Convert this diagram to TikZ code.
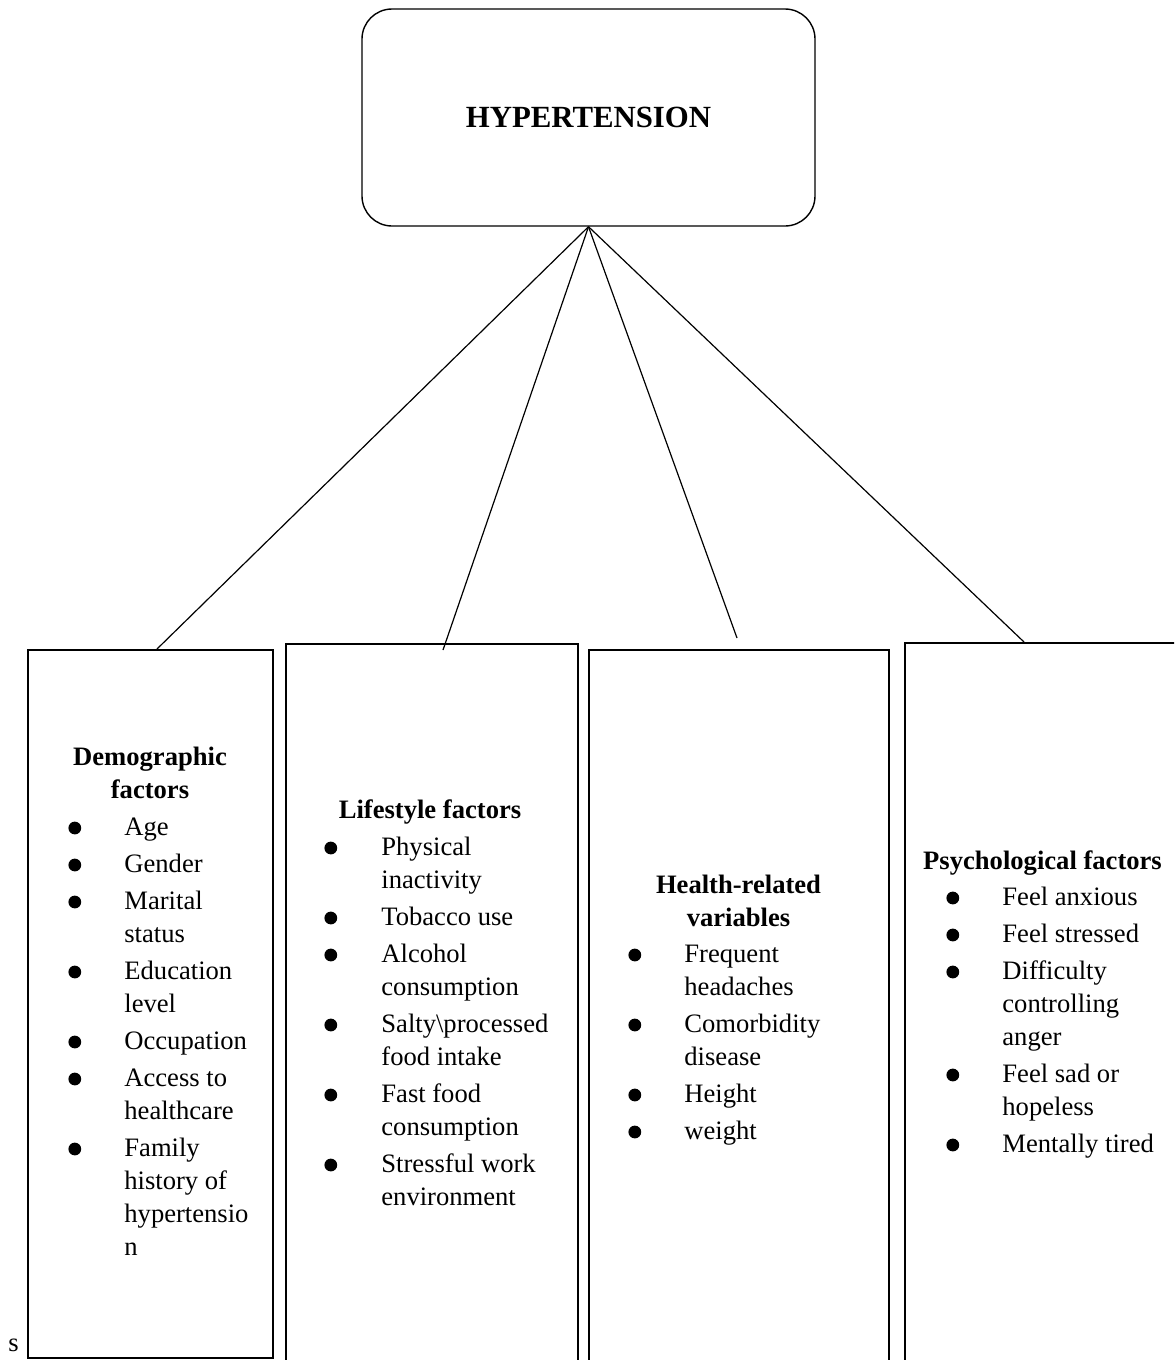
\documentclass[tikz,border=0pt]{standalone}
\usepackage{fontspec}
\setmainfont{Liberation Serif}
\usetikzlibrary{positioning}

\newcommand{\dotitem}{\tikz[baseline=-3.5pt]\fill (0,0) circle (3.2pt);}

\tikzset{
  topbox/.style={draw, rounded corners=15pt, line width=0.7pt, minimum width=226.5pt, minimum height=108.5pt, font=\fontsize{15.4}{18}\selectfont\bfseries},
  colbox/.style={draw, line width=0.8pt, anchor=north west, inner sep=0pt},
  headtext/.style={anchor=base, inner sep=0pt, font=\fontsize{13.3}{16.5}\selectfont\bfseries},
  listtext/.style={anchor=base west, inner sep=0pt, font=\fontsize{13.3}{16.5}\selectfont},
  link/.style={line width=0.6pt}
}

\begin{document}
\begin{tikzpicture}[x=0.5pt, y=-0.5pt]
  \useasboundingbox (0,0) rectangle (1174,1360);
  \clip (0,0) rectangle (1174,1360);

  % main box
  \node[topbox] (hyp) at (588.5,117.5) {HYPERTENSION};

  % column boxes
  \node[colbox, minimum width=122.5pt, minimum height=354pt] (demo) at (27,649) {};
  \node[colbox, minimum width=146pt, minimum height=370pt] (life) at (285,643) {};
  \node[colbox, minimum width=150pt, minimum height=370pt] (health) at (588,649) {};
  \node[colbox, minimum width=150pt, minimum height=370pt] (psych) at (904,642) {};

  % line ends
  \coordinate (demoend) at (157,649);
  \coordinate (lifeend) at (443,650);
  \coordinate (healthend) at (737,638);
  \coordinate (psychend) at (1024,642);

  \draw[link] (hyp.south) -- (demoend);
  \draw[link] (hyp.south) -- (lifeend);
  \draw[link] (hyp.south) -- (healthend);
  \draw[link] (hyp.south) -- (psychend);

  % headings
  \node[headtext] (demohead) at (150,765) {\begin{tabular}[t]{@{}c@{}}Demographic\\factors\end{tabular}};
  \node[headtext] (lifehead) at (430,818) {Lifestyle factors};
  \node[headtext] (healthhead) at (738.5,893) {\begin{tabular}[t]{@{}c@{}}Health-related\\variables\end{tabular}};
  \node[headtext] (psychhead) at (1042.5,869) {Psychological factors};

  % lists
  \node[listtext] (demolist) at (68,835) {\begin{tabular}[t]{@{}p{28pt}@{}l@{}}
    \dotitem & Age\\[2pt]
    \dotitem & Gender\\[2pt]
    \dotitem & Marital\\
             & status\\[2pt]
    \dotitem & Education\\
             & level\\[2pt]
    \dotitem & Occupation\\[2pt]
    \dotitem & Access to\\
             & healthcare\\[2pt]
    \dotitem & Family\\
             & history of\\
             & hypertensio\\
             & n
  \end{tabular}};

  \node[listtext] (lifelist) at (324,855) {\begin{tabular}[t]{@{}p{28.5pt}@{}l@{}}
    \dotitem & Physical\\
             & inactivity\\[2pt]
    \dotitem & Tobacco use\\[2pt]
    \dotitem & Alcohol\\
             & consumption\\[2pt]
    \dotitem & Salty\textbackslash processed\\
             & food intake\\[2pt]
    \dotitem & Fast food\\
             & consumption\\[2pt]
    \dotitem & Stressful work\\
             & environment
  \end{tabular}};

  \node[listtext] (healthlist) at (628,962) {\begin{tabular}[t]{@{}p{28pt}@{}l@{}}
    \dotitem & Frequent\\
             & headaches\\[2pt]
    \dotitem & Comorbidity\\
             & disease\\[2pt]
    \dotitem & Height\\[2pt]
    \dotitem & weight
  \end{tabular}};

  \node[listtext] (psychlist) at (946,905) {\begin{tabular}[t]{@{}p{28pt}@{}l@{}}
    \dotitem & Feel anxious\\[2pt]
    \dotitem & Feel stressed\\[2pt]
    \dotitem & Difficulty\\
             & controlling\\
             & anger\\[2pt]
    \dotitem & Feel sad or\\
             & hopeless\\[2pt]
    \dotitem & Mentally tired
  \end{tabular}};

  \node[listtext] (cut) at (8,1351) {s};
\end{tikzpicture}
\end{document}
